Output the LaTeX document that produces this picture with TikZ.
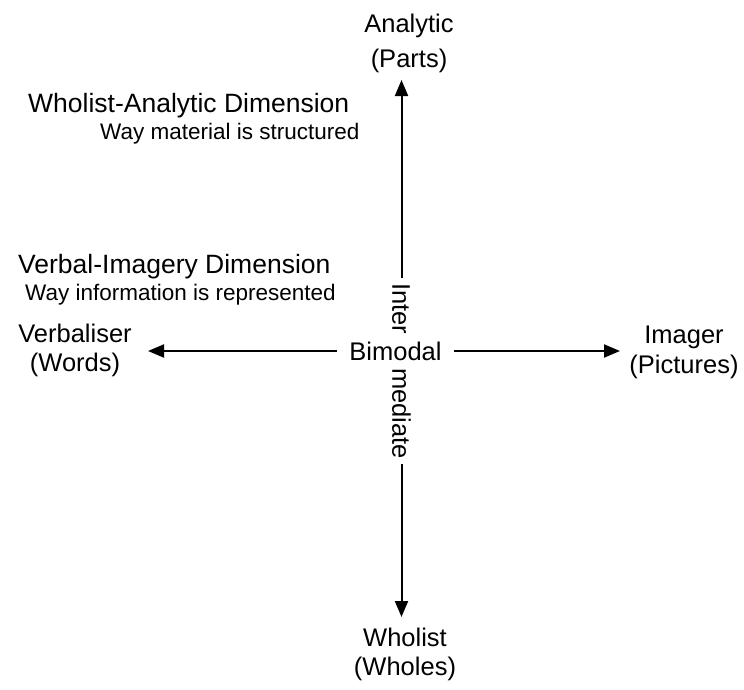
\documentclass[tikz,border=0pt]{standalone}
\usepackage{fontspec}
\setmainfont{Liberation Sans}
\usetikzlibrary{arrows.meta}

\begin{document}
\begin{tikzpicture}[x=1pt, y=-1pt,
  label/.style={align=center, inner sep=0pt, anchor=base,
    font=\fontsize{25.5}{34}\selectfont},
  dimtitle/.style={inner sep=0pt, anchor=base west,
    font=\fontsize{26.5}{30}\selectfont},
  dimnote/.style={inner sep=0pt, anchor=base west,
    font=\fontsize{22.5}{27}\selectfont},
  axis/.style={line width=2pt, -{Triangle[length=16pt, width=13pt]}}
]
\useasboundingbox (0,0) rectangle (744,689);

% pole labels (anchored at the baseline of the second line)
\node[label, font=\fontsize{25.5}{35}\selectfont] (analytic) at (409,67) {Analytic\\(Parts)};
\node[label, font=\fontsize{25.5}{29}\selectfont] (verbal) at (75,371) {Verbaliser\\(Words)};
\node[label, font=\fontsize{25.5}{30}\selectfont] (imager) at (684,373) {Imager\\(Pictures)};
\node[label, font=\fontsize{25.5}{29}\selectfont] (wholist) at (405,675) {Wholist\\(Wholes)};

% dimension captions
\node[dimtitle] (wadim) at (28,112) {Wholist-Analytic Dimension};
\node[dimnote] (wanote) at (100,139) {Way material is structured};
\node[dimtitle] (vidim) at (18,273) {Verbal-Imagery Dimension};
\node[dimnote] (vinote) at (25,300) {Way information is represented};

% centre labels
\node[inner xsep=12.5pt, inner ysep=0pt, anchor=base,
  font=\fontsize{25.5}{30}\selectfont] (bimodal) at (395.5,360) {Bimodal};
\node[rotate=-90, inner xsep=5pt, inner ysep=0pt,
  font=\fontsize{25.5}{30}\selectfont] (inter) at (401.5,371)
  {Inter\hspace{34pt}mediate};

% arrow tips
\coordinate (toptip) at (401.5,80);
\coordinate (bottip) at (401.5,617);
\coordinate (lefttip) at (148,351);
\coordinate (righttip) at (620,351);

% axes
\draw[axis] (inter.west) -- (toptip);
\draw[axis] (inter.east) -- (bottip);
\draw[axis] (bimodal.west |- lefttip) -- (lefttip);
\draw[axis] (bimodal.east |- righttip) -- (righttip);
\end{tikzpicture}
\end{document}
